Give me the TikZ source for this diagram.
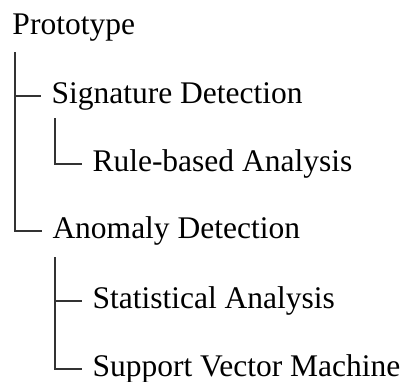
\documentclass[tikz,border=0pt]{standalone}
\usepackage{fontspec}
\setmainfont{Liberation Serif}
\begin{document}
\begin{tikzpicture}[x=0.4pt,y=-0.4pt,
  every node/.style={anchor=west, inner sep=0pt, text height=1.5ex, text depth=0.25ex,
    font=\fontsize{12.6}{14}\selectfont},
  branch/.style={line width=0.45pt, draw=black!80, shorten >=4pt}]
  \useasboundingbox (0,0) rectangle (407,381);
  \node (proto) at (12,27) {Prototype};
  \node (sig) at (51,96) {Signature Detection};
  \node (rule) at (92,164) {Rule-based Analysis};
  \node (anom) at (52,231) {Anomaly Detection};
  \node (stat) at (92,301) {Statistical Analysis};
  \node (svm) at (92,369) {Support Vector Machine};
  % vertical bars hang below their parents
  \coordinate (proto-bar) at (15,52);
  \coordinate (sig-bar) at (55,118);
  \coordinate (anom-bar) at (55,257);
  \draw[branch] (proto-bar) |- (sig.west);
  \draw[branch] (proto-bar) |- (anom.west);
  \draw[branch] (sig-bar) |- (rule.west);
  \draw[branch] (anom-bar) |- (stat.west);
  \draw[branch] (anom-bar) |- (svm.west);
\end{tikzpicture}
\end{document}
